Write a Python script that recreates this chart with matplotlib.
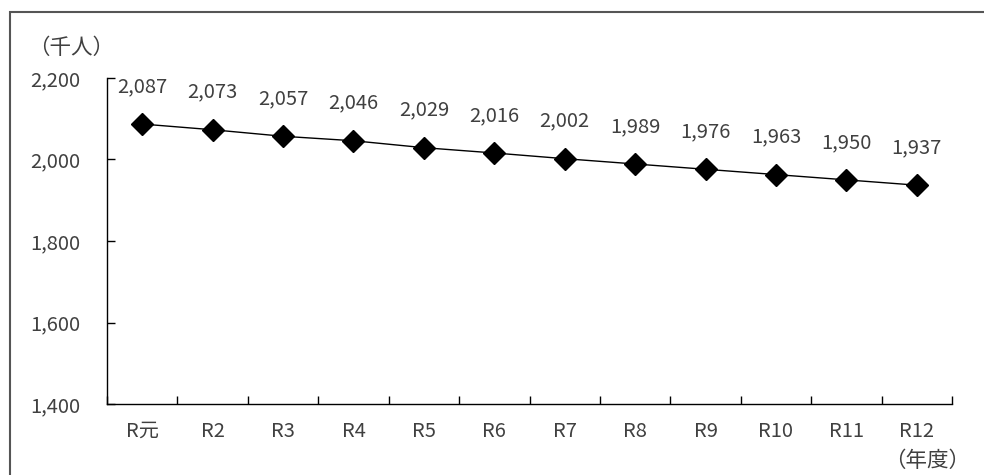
import matplotlib
matplotlib.use("Agg")
import matplotlib.pyplot as plt
from matplotlib.patches import Rectangle
from matplotlib.ticker import FuncFormatter, FixedLocator

plt.rcParams['font.family'] = ['Noto Sans CJK JP', 'DejaVu Sans']

categories = ['R元', 'R2', 'R3', 'R4', 'R5', 'R6', 'R7', 'R8', 'R9', 'R10', 'R11', 'R12']
values = [2087, 2073, 2057, 2046, 2029, 2016, 2002, 1989, 1976, 1963, 1950, 1937]
y_ticks = [1400, 1600, 1800, 2000, 2200]

TXT = '#404040'
FS = 14.5
fig = plt.figure(figsize=(9.84, 4.75), dpi=100)
W, H = 984, 475
ax = fig.add_axes([107 / W, 1 - 404 / H, (952 - 107) / W, (404 - 78) / H])

x = list(range(len(categories)))
ax.plot(x, values, color='black', lw=1.0, marker='D', ms=11.5, mfc='black', mec='black', zorder=3)
for xi, v in zip(x, values):
    ax.annotate(f'{v:,}', (xi, v), xytext=(0, 27), textcoords='offset points',
                ha='center', va='center', fontsize=FS, color=TXT)

ax.set_xlim(-0.5, len(categories) - 0.5)
ax.set_ylim(1400, 2200)
ax.set_yticks(y_ticks)
ax.yaxis.set_major_formatter(FuncFormatter(lambda v, p: f'{int(v):,}'))
ax.set_xticks(x)
ax.set_xticklabels(categories)
ax.xaxis.set_minor_locator(FixedLocator([i + 0.5 for i in range(-1, len(categories))]))
ax.tick_params(axis='x', which='major', length=0, pad=12, labelsize=FS, labelcolor=TXT)
ax.tick_params(axis='x', which='minor', direction='in', length=6, width=1)
ax.tick_params(axis='y', direction='in', length=6, width=1, pad=19, labelsize=FS, labelcolor=TXT)
for s in ['top', 'right']:
    ax.spines[s].set_visible(False)
for s in ['left', 'bottom']:
    ax.spines[s].set_linewidth(1.0)
    ax.spines[s].set_color('black')

fig.text(28 / W, 1 - 48 / H, '（千人）', fontsize=15.5, color=TXT, ha='left', va='center')
fig.text(970 / W, 1 - 461 / H, '（年度）', fontsize=15.5, color=TXT, ha='right', va='center')

fig.patches.append(Rectangle((10 / W, -0.05), 1.1, 1 - 12 / H + 0.05, transform=fig.transFigure,
                             fill=False, edgecolor='#555555', lw=1.5))

fig.savefig('out.png', dpi=100)
